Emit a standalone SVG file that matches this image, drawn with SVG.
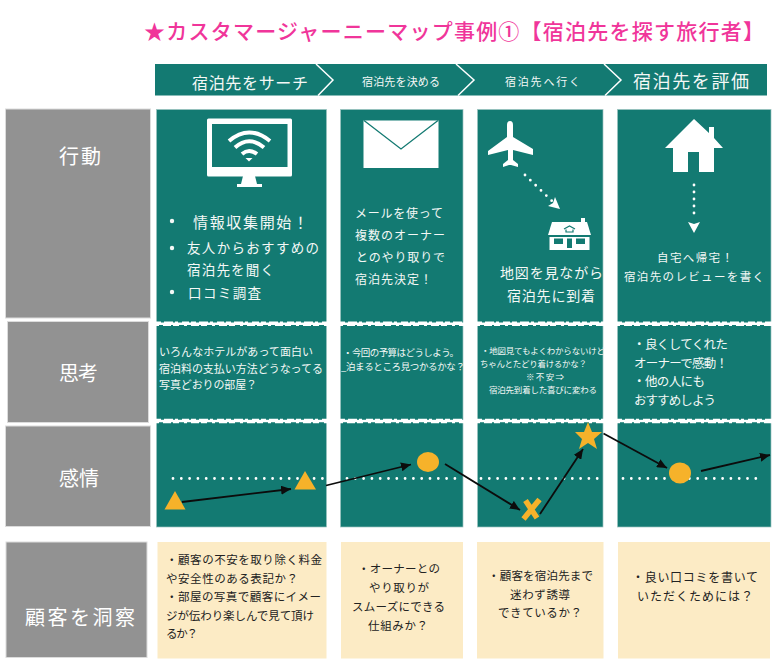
<svg xmlns="http://www.w3.org/2000/svg" width="780" height="664" viewBox="0 0 780 664">
<style>
text{font-family:"Noto Sans CJK JP","Noto Sans",sans-serif}
.w{fill:#f4f8f6}.k{fill:#222}
.title{fill:#f0359a;font-size:21px;font-weight:500}
.lab{fill:#fff;font-size:20px}
.panel{fill:#137a72;stroke:#9cc4bf;stroke-width:.7}
.grey{fill:#929292;stroke:#dcdcdc;stroke-width:1}
.beige{fill:#fcebc5}
.dots{fill:none;stroke:#fff;stroke-width:2.800;stroke-linecap:round;stroke-dasharray:0 8.3}
.conn{fill:none;stroke:#0c0c0c;stroke-width:1.800;marker-end:url(#ah)}
.or{fill:#f6b22a}
.rough{stroke:#fff;fill:none}
.ico{fill:#fff}
.tl{fill:#137a72}
</style>
<defs>
<marker id="ah" markerUnits="userSpaceOnUse" markerWidth="11" markerHeight="9" refX="10" refY="4.500" orient="auto"><path d="M0 0L10 4.500L0 9z" fill="#0c0c0c"/></marker>
</defs>
<rect width="780" height="664" fill="#fff"/>
<g id="title"><text class="title" x="144" y="39" textLength="620">★カスタマージャーニーマップ事例①【宿泊先を探す旅行者】</text></g>
<g id="header">
<rect x="155" y="64" width="612" height="31.500" fill="#137a72"/>
<path d="M316 64L333 80L318 95.500M456 64L474 80L458 95.500M604 64L621 80L605 95.500" fill="none" stroke="#fff" stroke-width="1.500"/>
<text class="w" x="192" y="89" font-size="16" textLength="116">宿泊先をサーチ</text>
<text class="w" x="362" y="86" font-size="11" textLength="78">宿泊先を決める</text>
<text class="w" x="505" y="86" font-size="11" textLength="75">宿泊先へ行く</text>
<text class="w" x="633" y="88" font-size="18" textLength="116">宿泊先を評価</text>
</g>
<g id="row-labels">
<g id="label-action"><rect class="grey" x="5.500" y="109" width="145" height="209"/><text class="lab" x="59" y="164" textLength="42">行動</text></g>
<g id="label-thought"><rect class="grey" x="7.500" y="321.500" width="141" height="101"/><text class="lab" x="59" y="381" textLength="39">思考</text></g>
<g id="label-emotion"><rect class="grey" x="5.500" y="426" width="145" height="100.500"/><text class="lab" x="59" y="486" textLength="40">感情</text></g>
<g id="label-insight"><rect class="grey" x="6" y="542" width="141" height="115.500"/><text class="lab" x="25" y="625" textLength="110">顧客を洞察</text></g>
</g>
<g id="panels">
<rect class="panel" x="156.500" y="109.500" width="170" height="417.500"/>
<rect class="panel" x="340.500" y="109.500" width="122.500" height="417.500"/>
<rect class="panel" x="477.500" y="109.500" width="125.500" height="417.500"/>
<rect class="panel" x="617.500" y="109.500" width="153.500" height="417.500"/>
<g class="rough">
<path stroke-width="2.600" d="M156 323.800H327M340 323.800H464M477 323.800H604M617 323.800H772M156 421H327M340 421H464M477 421H604M617 421H772"/>
<path stroke-width="1.600" stroke-dasharray="5 3 9 2 3 4 7 2" d="M156 322.300H327M340 322.300H464M477 322.300H604M617 322.300H772M156 419.500H327M340 419.500H464M477 419.500H604M617 419.500H772"/>
<path stroke-width="1.500" stroke-dasharray="3 4 8 2 6 5" d="M156 325.200H327M340 325.200H464M477 325.200H604M617 325.200H772M156 422.400H327M340 422.400H464M477 422.400H604M617 422.400H772"/>
</g>
</g>
<g id="insight-panels">
<rect class="beige" x="157.500" y="542" width="169" height="116.500"/>
<rect class="beige" x="341" y="542" width="122" height="116.500"/>
<rect class="beige" x="477" y="542" width="126.500" height="116.500"/>
<rect class="beige" x="618" y="542" width="152" height="116.500"/>
</g>
<g id="icon-monitor">
<rect class="ico" x="207" y="118.500" width="85" height="58" rx="1.500"/>
<rect class="tl" x="212" y="124" width="75.500" height="43"/>
<path class="ico" d="M243 176H255L257 184H262V187H237V184H241z"/>
<g fill="none" stroke="#fff"><path stroke-width="4" d="M229 141Q249 124 270 141"/><path stroke-width="4" d="M235 147.500Q249 135 264 147.500"/><path stroke-width="4" d="M242 154Q249 148 257 154"/></g>
<path class="ico" d="M245.500 158H252.500L249 161.500z"/>
</g>
<g id="icon-mail">
<rect class="ico" x="363.500" y="120.500" width="75" height="47.500"/>
<path d="M364 120.500L401 149L438 120.500" fill="none" stroke="#137a72" stroke-width="1.300"/>
</g>
<g id="icon-plane">
<path class="ico" d="M510 121Q513 121 513 125V137L533 149V155L513 150V160L518 164V167L511 165H509L503 167V164L508 160V150L488 155V151L507 137V125Q507 121 510 121z"/>
<path d="M525 175L552 201" fill="none" stroke="#fff" stroke-width="2.800" stroke-linecap="round" stroke-dasharray="0 7.400"/>
<path class="ico" d="M560 209L548 206L553 203L555 197z"/>
<g id="icon-small-house">
<rect class="ico" x="581" y="218" width="4" height="5"/>
<path class="ico" d="M552 222H587L591 235H548z"/>
<rect class="ico" x="549.500" y="237" width="40" height="13"/>
<path class="tl" d="M554 238.500H563V244H554zM567 238.500H572V248H567zM576 238.500H585V244H576z"/>
<path d="M564 229L569.500 226L575 229M566 229.500V232H573V229.500" fill="none" stroke="#137a72" stroke-width="1.200"/>
</g>
</g>
<g id="icon-house">
<path class="ico" d="M694 119L709 133V127H714V138L723 148H714V172H699V152H688V172H673V148H665z"/>
<path d="M694 185V219" fill="none" stroke="#fff" stroke-width="2.800" stroke-linecap="round" stroke-dasharray="0 7"/>
<path class="ico" d="M688 222L694 224L700 222L694 233z"/>
</g>
<g id="col1-text">
<circle class="w" cx="172" cy="221" r="2.200"/><circle class="w" cx="172" cy="248" r="2.200"/><circle class="w" cx="172" cy="292" r="2.200"/>
<text class="w" x="193" y="228" font-size="15" textLength="115">情報収集開始！</text>
<text class="w" x="187" y="253" font-size="13.500" textLength="132">友人からおすすめの</text>
<text class="w" x="187" y="275" font-size="13.500" textLength="87">宿泊先を聞く</text>
<text class="w" x="188" y="298" font-size="13.500" textLength="73">口コミ調査</text>
<text class="w" x="159" y="356" font-size="11" textLength="154">いろんなホテルがあって面白い</text>
<text class="w" x="159" y="373" font-size="11" textLength="164">宿泊料の支払い方法どうなってる</text>
<text class="w" x="159" y="389" font-size="11" textLength="98">写真どおりの部屋？</text>
</g>
<g id="col2-text">
<text class="w" x="355" y="218" font-size="12" textLength="88">メールを使って</text>
<text class="w" x="355" y="240" font-size="12" textLength="90">複数のオーナー</text>
<text class="w" x="356" y="262" font-size="12" textLength="89">とのやり取りで</text>
<text class="w" x="355" y="284" font-size="12" textLength="77">宿泊先決定！</text>
<text class="w" x="343" y="356" font-size="9.500" textLength="116">・今回の予算はどうしよう。</text>
<text class="w" x="341" y="370" font-size="9.500" textLength="124">_泊まるところ見つかるかな？</text>
</g>
<g id="col3-text">
<text class="w" x="500" y="278" font-size="14" textLength="103">地図を見ながら</text>
<text class="w" x="507" y="301" font-size="14" textLength="88">宿泊先に到着</text>
<text class="w" x="481" y="354" font-size="8.500" textLength="124">・地図見てもよくわからないけど</text>
<text class="w" x="480" y="367" font-size="8.500" textLength="107">ちゃんとたどり着けるかな？</text>
<text class="w" x="526" y="380" font-size="8.500" textLength="38">※不安⇒</text>
<text class="w" x="489" y="393" font-size="8.500" textLength="108">宿泊先到着した喜びに変わる</text>
</g>
<g id="col4-text">
<text class="w" x="657" y="262" font-size="11.500" textLength="76">自宅へ帰宅！</text>
<text class="w" x="624" y="281" font-size="11.500" textLength="140">宿泊先のレビューを書く</text>
<text class="w" x="633" y="349" font-size="12.500" textLength="95">・良くしてくれた</text>
<text class="w" x="634" y="368" font-size="12.500" textLength="94">オーナーで感動！</text>
<text class="w" x="633" y="386" font-size="12.500" textLength="72">・他の人にも</text>
<text class="w" x="634" y="405" font-size="12.500" textLength="82">おすすめしよう</text>
</g>
<g id="insight-text">
<text class="k" x="166" y="564" font-size="11.500" textLength="156">・顧客の不安を取り除く料金</text>
<text class="k" x="166" y="583" font-size="11.500" textLength="132">や安全性のある表記か？</text>
<text class="k" x="166" y="601" font-size="11.500" textLength="155">・部屋の写真で顧客にイメー</text>
<text class="k" x="166" y="620" font-size="11.500" textLength="148">ジが伝わり楽しんで見て頂け</text>
<text class="k" x="166" y="638" font-size="11.500" textLength="32">るか？</text>
<text class="k" x="358" y="573" font-size="11.500" textLength="82">・オーナーとの</text>
<text class="k" x="369" y="592" font-size="11.500" textLength="60">やり取りが</text>
<text class="k" x="352" y="611" font-size="11.500" textLength="93">スムーズにできる</text>
<text class="k" x="368" y="630" font-size="11.500" textLength="60">仕組みか？</text>
<text class="k" x="488" y="580" font-size="11.500" textLength="105">・顧客を宿泊先まで</text>
<text class="k" x="510" y="599" font-size="11.500" textLength="60">迷わず誘導</text>
<text class="k" x="498" y="617" font-size="11.500" textLength="84">できているか？</text>
<text class="k" x="632" y="582" font-size="12" textLength="126">・良い口コミを書いて</text>
<text class="k" x="637" y="601" font-size="12" textLength="116">いただくためには？</text>
</g>
<g id="emotion-baseline">
<path class="dots" d="M173 478.500H326M347 478.500H463M481 478.500H603M623 478.500H760"/>
</g>
<g id="emotion-points">
<path id="point-1" class="or" d="M175 491L164.500 509.500H185.500z"/>
<path id="point-2" class="or" d="M305 471L294.500 489.500H316z"/>
<ellipse id="point-3" class="or" cx="428" cy="462" rx="11" ry="10"/>
<path id="point-4" d="M525.500 500.500L537 518M539.500 499.500L523.500 519" fill="none" stroke="#f6b22a" stroke-width="5.500"/>
<path id="point-5" class="or" d="M588 422L592 432H602L594 439L597 449L588 443L579 449L582 439L575 432H584z"/>
<ellipse id="point-6" class="or" cx="680" cy="473" rx="11" ry="10.500"/>
</g>
<g id="connectors">
<path class="conn" d="M182 502L291 489"/>
<path class="conn" d="M326 485.500L411 464.500"/>
<path class="conn" d="M445 464L520 510"/>
<path class="conn" d="M540 514L583 449"/>
<path class="conn" d="M603.500 433.500L667 468"/>
<path class="conn" d="M701 471L770 455"/>
</g>
</svg>
